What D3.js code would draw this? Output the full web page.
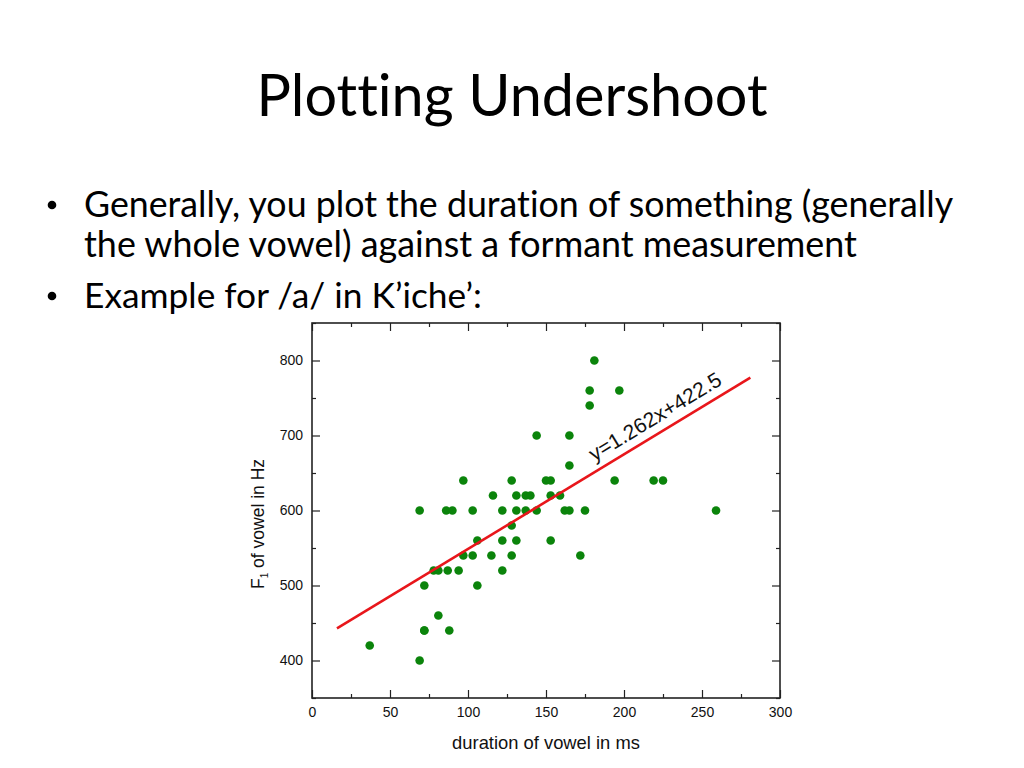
<!DOCTYPE html>
<html>
<head>
<meta charset="utf-8">
<script src="https://cdn.jsdelivr.net/npm/d3@7"></script>
<style>
  html, body { margin: 0; padding: 0; background: #fff; }
  svg { display: block; }
  text { font-variant-ligatures: none; }
</style>
</head>
<body>
<svg id="slide" width="1024" height="768"></svg>
<script>
"use strict";

// vowel /a/ tokens: duration (ms) and F1 (Hz)
const durations = [
  37, 69, 72, 72, 81, 88,
  72, 106,
  78, 81, 87, 94, 122,
  97, 103, 115, 128, 172,
  106, 122, 131, 153,
  128,
  69, 86, 90, 103, 122, 131, 137, 144, 162, 165, 175, 259,
  116, 131, 137, 140, 153, 159,
  97, 128, 150, 153, 194, 219, 225,
  165,
  144, 165,
  178,
  178, 197,
  181
];
const f1Values = [
  420, 400, 440, 440, 460, 440,
  500, 500,
  520, 520, 520, 520, 520,
  540, 540, 540, 540, 540,
  560, 560, 560, 560,
  580,
  600, 600, 600, 600, 600, 600, 600, 600, 600, 600, 600, 600,
  620, 620, 620, 620, 620, 620,
  640, 640, 640, 640, 640, 640, 640,
  660,
  700, 700,
  740,
  760, 760,
  800
];

const fitSlope = 1.262;
const fitIntercept = 422.5;
const fitSpan = [16, 281];

const xTicks = [0, 50, 100, 150, 200, 250, 300];
const xMinor = [25, 75, 125, 175, 225, 275];
const yTicks = [400, 500, 600, 700, 800];
const yMinor = [350, 450, 550, 650, 750, 850];

const bulletLines = [
  {bullet: true,  text: 'Generally, you plot the duration of something (generally', y: 217, w: 869},
  {bullet: false, text: 'the whole vowel) against a formant measurement', y: 257, w: 773},
  {bullet: true,  text: 'Example for /a/ in K\u2019iche\u2019:', y: 308, w: 398}
];

const svg = d3.select('#slide');
const slideFont = 'Lato, "Open Sans", sans-serif';
const chartFont = '"Liberation Sans", Arial, sans-serif';

// scale a text's font size so it spans the measured width
const fitWidth = function(sel, target){
    const node = sel.node();
    const size = parseFloat(sel.attr('font-size'));
    const len = node.getComputedTextLength();
    sel.attr('font-size', (size * target / len).toFixed(2));
};

/*-- title and bullets -------------------------------------------------------*/
const title = svg.append('text')
                 .attr('x', 512)
                 .attr('y', 116)
                 .attr('text-anchor', 'middle')
                 .attr('font-family', slideFont)
                 .attr('font-size', 54)
                 .attr('fill', '#000')
                 .text('Plotting Undershoot');
fitWidth(title, 511);

bulletLines.forEach(function(l){
    if (l.bullet){
        svg.append('circle')
           .attr('cx', 52)
           .attr('cy', l.y - 12)
           .attr('r', 4.3)
           .attr('fill', '#000');
    }
    const t = svg.append('text')
                 .attr('x', 84)
                 .attr('y', l.y)
                 .attr('font-family', slideFont)
                 .attr('font-size', 32)
                 .attr('fill', '#000')
                 .text(l.text);
    fitWidth(t, l.w);
});

/*-- scatter plot ------------------------------------------------------------*/
const x = d3.scaleLinear().domain([0, 300]).range([312, 780]);
const y = d3.scaleLinear().domain([350, 850]).range([698, 323]);

const plot = svg.append('g');

const axisStyle = function(g, showLabels){
    g.select('.domain').remove();
    g.selectAll('.tick line').attr('stroke', '#222').attr('stroke-width', 1.2);
    g.selectAll('.tick text')
     .attr('font-family', chartFont)
     .attr('font-size', 14)
     .attr('fill', '#111')
     .style('display', showLabels ? null : 'none');
};

const addAxis = function(axisFn, scale, major, minor, transform, labels){
    plot.append('g')
        .attr('transform', transform)
        .call(axisFn(scale).tickValues(minor).tickSize(-4).tickFormat(''))
        .call(axisStyle, false);
    plot.append('g')
        .attr('transform', transform)
        .call(axisFn(scale).tickValues(major).tickSize(-8).tickPadding(labels ? 9 : 0).tickFormat(d3.format('d')))
        .call(axisStyle, labels);
};

addAxis(d3.axisBottom, x, xTicks, xMinor, 'translate(0,698)', true);
addAxis(d3.axisTop, x, xTicks, xMinor, 'translate(0,323)', false);
addAxis(d3.axisLeft, y, yTicks, yMinor, 'translate(312,0)', true);
addAxis(d3.axisRight, y, yTicks, yMinor, 'translate(780,0)', false);

plot.append('rect')
    .attr('x', x(0))
    .attr('y', y(850))
    .attr('width', x(300) - x(0))
    .attr('height', y(350) - y(850))
    .attr('fill', 'none')
    .attr('stroke', '#222')
    .attr('stroke-width', 1.6);

const points = durations.map(function(d, i){ return {dur: d, f1: f1Values[i]}; });

plot.append('g')
    .selectAll('circle')
    .data(points)
    .enter()
    .append('circle')
    .attr('cx', function(d){ return x(d.dur); })
    .attr('cy', function(d){ return y(d.f1); })
    .attr('r', 4.3)
    .attr('fill', '#0b840b');

const fitY = function(v){ return fitSlope * v + fitIntercept; };

plot.append('line')
    .attr('x1', x(fitSpan[0]))
    .attr('y1', y(fitY(fitSpan[0])))
    .attr('x2', x(fitSpan[1]))
    .attr('y2', y(fitY(fitSpan[1])))
    .attr('stroke', '#e8161b')
    .attr('stroke-width', 2.6);

// equation label along the fit line
const angle = Math.atan2(y(fitY(300)) - y(fitY(0)), x(300) - x(0)) * 180 / Math.PI;
const labelAt = 184;
plot.append('text')
    .attr('transform', 'translate(' + x(labelAt) + ',' + y(fitY(labelAt)) + ') rotate(' + angle + ')')
    .attr('dy', -9)
    .attr('font-family', chartFont)
    .attr('font-size', 21)
    .attr('fill', '#111')
    .text('y=' + fitSlope + 'x+' + fitIntercept);

// axis titles
const xTitle = plot.append('text')
    .attr('x', 546)
    .attr('y', 749)
    .attr('text-anchor', 'middle')
    .attr('font-family', chartFont)
    .attr('font-size', 17)
    .attr('fill', '#111')
    .text('duration of vowel in ms');
fitWidth(xTitle, 188);

const yTitle = plot.append('text')
    .attr('transform', 'translate(264,524) rotate(-90)')
    .attr('text-anchor', 'middle')
    .attr('font-family', chartFont)
    .attr('font-size', 17.5)
    .attr('fill', '#111');
yTitle.append('tspan').text('F');
yTitle.append('tspan').attr('font-size', 10).attr('dy', 4).text('1');
yTitle.append('tspan').attr('dy', -4).text(' of vowel in Hz');
</script>
</body>
</html>
